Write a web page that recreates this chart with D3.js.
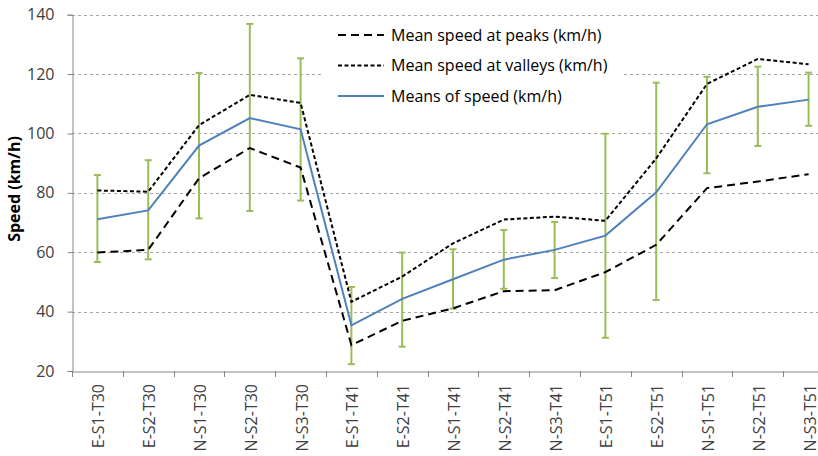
<!DOCTYPE html>
<html>
<head>
<meta charset="utf-8">
<script src="https://cdn.jsdelivr.net/npm/d3@7"></script>
<style>
  body { margin: 0; background: #fff; }
  svg { display: block; font-family: "Open Sans", "Liberation Sans", Arial, sans-serif; }
</style>
</head>
<body>
<div id="chart"></div>
<script>
// Speed data per section
const categories = ['E-S1-T30', 'E-S2-T30', 'N-S1-T30', 'N-S2-T30', 'N-S3-T30',
    'E-S1-T41', 'E-S2-T41', 'N-S1-T41', 'N-S2-T41', 'N-S3-T41',
    'E-S1-T51', 'E-S2-T51', 'N-S1-T51', 'N-S2-T51', 'N-S3-T51'];
const peaks = [59.9, 60.8, 84.9, 95.1, 88.5, 28.7, 36.9, 41.1, 46.9, 47.2, 53.3, 62.5, 81.6, 83.8, 86.3];
const valleys = [80.8, 80.4, 102.8, 113.0, 110.3, 43.3, 51.8, 63.0, 71.0, 72.0, 70.6, 91.6, 116.7, 125.1, 123.3];
const means = [71.1, 74.1, 95.9, 105.2, 101.4, 35.4, 44.3, 50.9, 57.5, 60.8, 65.6, 80.2, 103.1, 109.0, 111.4];
const errHigh = [86.0, 91.0, 120.4, 136.9, 125.3, 48.3, 59.9, 61.0, 67.5, 70.2, 99.9, 117.1, 119.1, 122.5, 120.5];
const errLow = [56.7, 57.6, 71.4, 73.9, 77.4, 22.3, 28.2, 41.0, 47.7, 51.3, 31.2, 43.9, 86.6, 95.8, 102.6];
const yTicks = [20, 40, 60, 80, 100, 120, 140];
const legendLabels = ['Mean speed at peaks (km/h)', 'Mean speed at valleys (km/h)', 'Means of speed (km/h)'];

const width = 818, height = 456;
const margin = { top: 14.7, left: 72 };
const bandW = 50.8;
const plotW = bandW * categories.length;

const svg = d3.select('#chart')
    .append('svg')
    .attr('width', width)
    .attr('height', height);

const x = d3.scaleBand()
    .domain(categories)
    .range([margin.left, margin.left + plotW]);

const y = d3.scaleLinear()
    .domain([20, 140])
    .range([371, margin.top]);

// gridlines
svg.append('g')
    .selectAll('line')
    .data(yTicks.filter(d => d > 20))
    .enter()
    .append('line')
    .attr('x1', margin.left)
    .attr('x2', margin.left + plotW)
    .attr('y1', d => Math.round(y(d)) + 0.5)
    .attr('y2', d => Math.round(y(d)) + 0.5)
    .attr('stroke', '#a6a6a6')
    .attr('stroke-dasharray', '3,3');

// legend box (white, hides grid behind it)
const legend = svg.append('g').attr('transform', 'translate(322,20)');
legend.append('rect')
    .attr('width', 302)
    .attr('height', 92)
    .attr('fill', '#fff');

// y axis
const yAxis = svg.append('g')
    .attr('transform', `translate(${margin.left + 0.5},0)`)
    .call(d3.axisLeft(y).tickValues(yTicks).tickSize(5).tickPadding(13));
yAxis.select('.domain').attr('stroke', '#868686');
yAxis.selectAll('.tick line').attr('stroke', '#868686');
yAxis.selectAll('.tick text')
    .attr('font-size', '16px')
    .attr('font-family', '"Open Sans", sans-serif')
    .attr('fill', '#404040');

// x axis
const xAxis = svg.append('g')
    .attr('transform', `translate(0,${Math.round(y(20)) + 0.5})`)
    .call(d3.axisBottom(x).tickSize(0).tickFormat(''));
xAxis.select('.domain').attr('stroke', '#868686');
xAxis.selectAll('.tick').remove();

svg.append('g')
    .selectAll('line')
    .data(d3.range(categories.length + 1))
    .enter()
    .append('line')
    .attr('x1', i => Math.round(margin.left + i * bandW) + 0.5)
    .attr('x2', i => Math.round(margin.left + i * bandW) + 0.5)
    .attr('y1', Math.round(y(20)))
    .attr('y2', Math.round(y(20)) + 6)
    .attr('stroke', '#868686');

svg.append('g')
    .selectAll('text')
    .data(categories)
    .enter()
    .append('text')
    .attr('transform', d => `translate(${x(d) + x.bandwidth() / 2 + 7},384) rotate(-90)`)
    .attr('text-anchor', 'end')
    .attr('font-size', '16px')
    .attr('fill', '#404040')
    .text(d => d);

// y axis title
svg.append('text')
    .attr('transform', 'translate(20,189) rotate(-90)')
    .attr('text-anchor', 'middle')
    .attr('font-size', '16px')
    .attr('font-weight', 'bold')
    .attr('fill', '#000')
    .text('Speed (km/h)');

const cx = d => x(d) + x.bandwidth() / 2;

// error bars
const errG = svg.append('g')
    .attr('stroke', '#9bbb59')
    .attr('stroke-width', 2);
categories.forEach((c, i) => {
    errG.append('line')
        .attr('x1', cx(c)).attr('x2', cx(c))
        .attr('y1', y(errLow[i])).attr('y2', y(errHigh[i]));
    [errLow[i], errHigh[i]].forEach(v => {
        errG.append('line')
            .attr('x1', cx(c) - 3.5).attr('x2', cx(c) + 3.5)
            .attr('y1', y(v)).attr('y2', y(v));
    });
});

const line = d3.line()
    .x((d, i) => cx(categories[i]))
    .y(d => y(d));

const series = [
    { values: peaks, color: '#000', dash: '8,5', width: 2 },
    { values: valleys, color: '#000', dash: '4,2.5', width: 2 },
    { values: means, color: '#4f81bd', dash: null, width: 2 }
];

series.forEach(s => {
    svg.append('path')
        .datum(s.values)
        .attr('d', line)
        .attr('fill', 'none')
        .attr('stroke', s.color)
        .attr('stroke-width', s.width)
        .attr('stroke-dasharray', s.dash);
});

// legend items
series.forEach((s, i) => {
    const row = legend.append('g').attr('transform', `translate(0,${15 + i * 30.5})`);
    row.append('line')
        .attr('x1', 16).attr('x2', 62)
        .attr('y1', 0).attr('y2', 0)
        .attr('stroke', s.color)
        .attr('stroke-width', s.width)
        .attr('stroke-dasharray', s.dash);
    row.append('text')
        .attr('x', 69)
        .attr('y', 5.5)
        .attr('font-size', '16px')
        .attr('fill', '#000')
        .text(legendLabels[i]);
});
</script>
</body>
</html>
